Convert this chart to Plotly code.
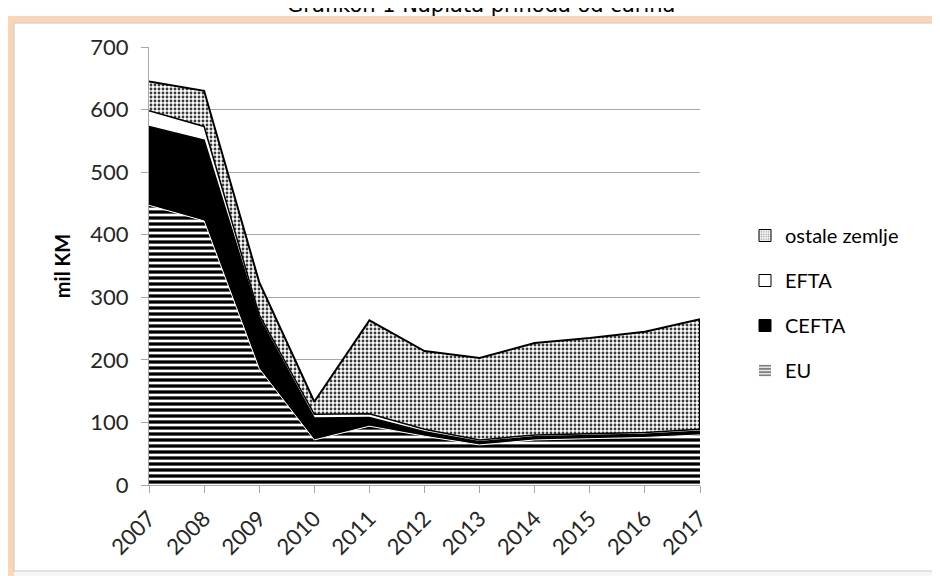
#!/usr/bin/env python3
"""Grafikon 1 - Naplata prihoda od carina (stacked area, mil KM)."""

import plotly.graph_objects as go

YEARS = [2007, 2008, 2009, 2010, 2011, 2012, 2013, 2014, 2015, 2016, 2017]
EU = [447, 422, 186, 72, 94, 78, 64, 72, 74, 76, 80]
CEFTA = [126, 129, 81, 35, 14, 7, 5, 5, 5, 5, 6]
EFTA = [25, 22, 5, 6, 6, 4, 3, 3, 3, 3, 3]
OSTALE = [47, 57, 52, 20, 149, 125, 131, 147, 153, 161, 176]

TITLE = "Grafikon 1 Naplata prihoda od carina"
Y_TITLE = "mil KM"

FONT = "Lato"
TICK_COLOR = "#262626"
GRID_COLOR = "#a6a6a6"
PEACH = "#fcd5b4"

# the page body adds an 8px offset, so margins are shifted back by it
OFF = 8
W, H = 940, 576
PW, PH = 551, 438            # plot area 149..700 x 47..485 on screen
L, T = 149 - OFF, 47 - OFF
R, B = W - L - PW, H - T - PH


def px(x):
    """screen x pixel -> paper coordinate"""
    return (x - 149) / PW


def py(y):
    """screen y pixel -> paper coordinate"""
    return (485 - y) / PH


EU_PATTERN = dict(shape="-", size=6, solidity=0.55, fgcolor="black", fgopacity=1, bgcolor="white")
DOT_PATTERN = dict(shape=".", size=4, solidity=0.4, fgcolor="#3a3a3a", fgopacity=1, bgcolor="white")

series = [
    ("EU", EU, EU_PATTERN, "white", 1),
    ("CEFTA", CEFTA, None, "black", 1.5),
    ("EFTA", EFTA, None, "black", 1.5),
    ("ostale zemlje", OSTALE, DOT_PATTERN, "black", 2),
]
fills = {"EU": "white", "CEFTA": "black", "EFTA": "white", "ostale zemlje": "white"}

fig = go.Figure()

for name, vals, pattern, line_color, line_width in series:
    kw = dict(fillpattern=pattern) if pattern else {}
    fig.add_trace(go.Scatter(
        x=YEARS, y=vals, name=name, mode="lines", stackgroup="one",
        line=dict(color=line_color, width=line_width),
        fillcolor=fills[name], showlegend=False, hoverinfo="x+y+name",
        **kw,
    ))

# right edge of the area (Excel draws the border down at the last year)
base_last = EU[-1] + CEFTA[-1] + EFTA[-1]
fig.add_trace(go.Scatter(
    x=[YEARS[-1], YEARS[-1]], y=[base_last, base_last + OSTALE[-1]],
    mode="lines", line=dict(color="black", width=2), showlegend=False, hoverinfo="skip",
))

# legend entries (bar symbols give square swatches with patterns)
legend_items = [
    ("ostale zemlje", dict(color="white", line=dict(color="black", width=1),
                           pattern=dict(shape=".", size=3, solidity=0.4, fgcolor="#3a3a3a", bgcolor="white"))),
    ("EFTA", dict(color="white", line=dict(color="black", width=1))),
    ("CEFTA", dict(color="black", line=dict(color="black", width=1))),
    ("EU", dict(color="white", line=dict(color="white", width=0),
                pattern=dict(shape="-", size=4, solidity=0.6, fgcolor="black", bgcolor="white"))),
]
for name, marker in legend_items:
    fig.add_trace(go.Bar(x=[None], y=[None], name=name, marker=marker,
                         legendgroup=name, showlegend=True))

frame_line = dict(color="#c8c8c8", width=1)
BAND_TOP, BAND_BOT = 16, 23

fig.update_layout(
    width=W, height=H,
    margin=dict(l=L, r=R, t=T, b=B, pad=0),
    paper_bgcolor="white",
    plot_bgcolor="white",
    font=dict(family=FONT, color=TICK_COLOR),
    legend=dict(
        x=px(745), y=py(216), xanchor="left", yanchor="top",
        font=dict(family=FONT, size=20, color="black"),
        traceorder="grouped", tracegroupgap=16,
        bgcolor="rgba(0,0,0,0)",
    ),
    shapes=[
        # peach frame: top band and left band
        dict(type="rect", xref="paper", yref="paper", layer="below",
             x0=px(0), x1=px(W + 20), y0=py(BAND_BOT), y1=py(BAND_TOP),
             fillcolor=PEACH, line=dict(width=0)),
        dict(type="rect", xref="paper", yref="paper", layer="below",
             x0=px(0), x1=px(14), y0=py(H + 20), y1=py(BAND_TOP),
             fillcolor=PEACH, line=dict(width=0)),
        # strip below the chart box
        dict(type="rect", xref="paper", yref="paper", layer="below",
             x0=px(14), x1=px(W + 20), y0=py(H + 20), y1=py(571),
             fillcolor="#f6f6f6", line=dict(width=0)),
        # thin grey outline of the chart box
        dict(type="line", xref="paper", yref="paper", layer="below",
             x0=px(14), x1=px(W + 20), y0=py(BAND_BOT), y1=py(BAND_BOT), line=frame_line),
        dict(type="line", xref="paper", yref="paper", layer="below",
             x0=px(14), x1=px(W + 20), y0=py(571), y1=py(571), line=frame_line),
        dict(type="line", xref="paper", yref="paper", layer="below",
             x0=px(14), x1=px(14), y0=py(571), y1=py(BAND_BOT), line=frame_line),
    ],
    annotations=[
        dict(text=TITLE, xref="paper", yref="paper", x=px(481), y=py(19),
             xanchor="center", yanchor="bottom", showarrow=False,
             font=dict(family="DejaVu Sans", size=21, color="black")),
    ],
)

fig.update_xaxes(
    range=[YEARS[0], YEARS[-1]], tickmode="array", tickvals=YEARS,
    ticktext=[str(y) for y in YEARS], tickangle=-45,
    ticks="outside", ticklen=7, tickcolor=GRID_COLOR,
    showline=True, linecolor=GRID_COLOR, linewidth=1,
    showgrid=False, zeroline=False, ticklabelstandoff=4,
    tickfont=dict(family=FONT, size=22, color=TICK_COLOR),
)
fig.update_yaxes(
    range=[0, 700], tickmode="linear", tick0=0, dtick=100,
    ticks="outside", ticklen=7, tickcolor=GRID_COLOR,
    showline=True, linecolor=GRID_COLOR, linewidth=1,
    showgrid=True, gridcolor=GRID_COLOR, gridwidth=1, zeroline=False,
    ticklabelstandoff=8,
    tickfont=dict(family=FONT, size=22, color=TICK_COLOR),
    title=dict(text=f"<b>{Y_TITLE}</b>", standoff=14,
               font=dict(family=FONT, size=20, color="black")),
)

fig.write_html("out.html")
